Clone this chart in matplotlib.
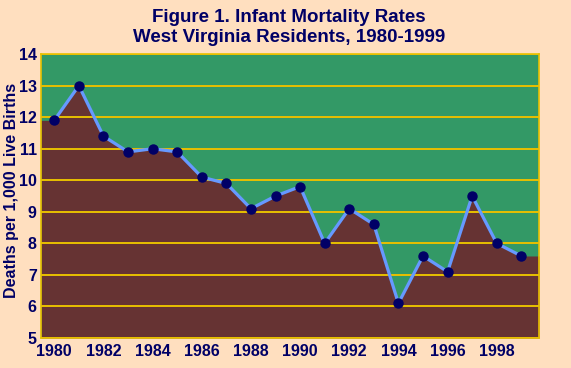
import matplotlib
matplotlib.use("Agg")
import matplotlib.pyplot as plt
import numpy as np

years = [1980, 1981, 1982, 1983, 1984, 1985, 1986, 1987, 1988, 1989,
         1990, 1991, 1992, 1993, 1994, 1995, 1996, 1997, 1998, 1999]
rates = [11.9, 13.0, 11.4, 10.9, 11.0, 10.9, 10.1, 9.9, 9.1, 9.5,
         9.8, 8.0, 9.1, 8.6, 6.1, 7.6, 7.1, 9.5, 8.0, 7.6]
xticks = [1980, 1982, 1984, 1986, 1988, 1990, 1992, 1994, 1996, 1998]
yticks = [5, 6, 7, 8, 9, 10, 11, 12, 13, 14]
title1 = "Figure 1. Infant Mortality Rates"
title2 = "West Virginia Residents, 1980-1999"
ylabel = "Deaths per 1,000 Live Births"

plt.rcParams['font.family'] = ['Liberation Sans', 'DejaVu Sans']
navy = "#000066"
bg = "#FFDFBF"
green = "#339966"
brown = "#663333"
grid = "#E8C000"

fig = plt.figure(figsize=(5.71, 3.68), dpi=100, facecolor=bg)
ax = fig.add_axes([0.0718, 0.0815, 0.944 - 0.0718, 0.853 - 0.0815])
ax.set_facecolor(green)

xmin, xmax = 1979.46, 1999.72
ax.set_xlim(xmin, xmax)
ax.set_ylim(5, 14)

fx = [xmin] + years + [xmax]
fy = [rates[0]] + rates + [rates[-1]]
ax.fill_between(fx, 5, fy, color=brown, zorder=1, linewidth=0)

for y in yticks:
    ax.axhline(y, color=grid, linewidth=1.4, zorder=2)

ax.plot(years, rates, color="#6699FF", linewidth=2.3, zorder=3)
ax.plot(years, rates, linestyle="none", marker="o", markersize=6.5,
        markerfacecolor=navy, markeredgecolor=navy, zorder=4)

for s in ax.spines.values():
    s.set_color(grid)
    s.set_linewidth(1.2)

ax.set_xticks(xticks)
ax.set_yticks(yticks)
ax.tick_params(axis='y', length=0, pad=3, colors=navy)
ax.tick_params(axis='x', length=0, pad=4, colors=navy)
for lbl in ax.get_xticklabels() + ax.get_yticklabels():
    lbl.set_fontsize(11.5)
    lbl.set_fontweight("bold")
    lbl.set_color(navy)

ax.set_ylabel(ylabel, fontsize=11.5, fontweight="bold", color=navy)
ax.yaxis.set_label_coords(-0.044, 0.52)

fig.text(289 / 571, 1 - 17 / 368, title1, fontsize=13.5, fontweight="bold",
         color=navy, ha="center", va="center")
fig.text(289 / 571, 1 - 38 / 368, title2, fontsize=13.5, fontweight="bold",
         color=navy, ha="center", va="center")

fig.savefig("out.png", dpi=100, facecolor=bg)
